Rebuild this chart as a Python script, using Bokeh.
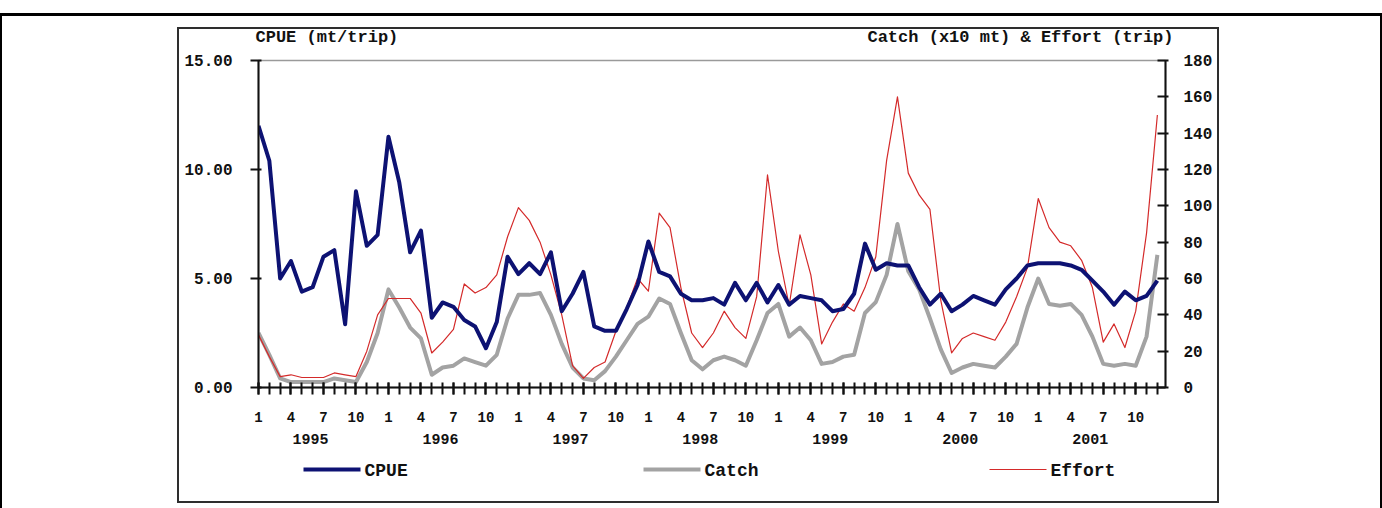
from bokeh.plotting import figure
from bokeh.models import (Range1d, LinearAxis, FixedTicker, ColumnDataSource,
                          NumeralTickFormatter, InlineStyleSheet)
from bokeh.embed import file_html
from bokeh.resources import INLINE

# ---------------- data ----------------
years = ["1995", "1996", "1997", "1998", "1999", "2000", "2001"]
labelled_months = [1, 4, 7, 10]
cpue_ticks = [0, 5, 10, 15]
right_ticks = [0, 20, 40, 60, 80, 100, 120, 140, 160, 180]
titles = ["CPUE (mt/trip)", "Catch (x10 mt) & Effort (trip)"]
series_names = ["CPUE", "Catch", "Effort"]

cpue = [
    12.0, 10.4, 5.0, 5.8, 4.4, 4.6, 6.0, 6.3, 2.9, 9.0, 6.5, 7.0,
    11.5, 9.4, 6.2, 7.2, 3.2, 3.9, 3.7, 3.1, 2.8, 1.8, 3.0, 6.0,
    5.2, 5.7, 5.2, 6.2, 3.5, 4.3, 5.3, 2.8, 2.6, 2.6, 3.6, 4.7,
    6.7, 5.3, 5.1, 4.3, 4.0, 4.0, 4.1, 3.8, 4.8, 4.0, 4.8, 3.9,
    4.7, 3.8, 4.2, 4.1, 4.0, 3.5, 3.6, 4.3, 6.6, 5.4, 5.7, 5.6,
    5.6, 4.6, 3.8, 4.3, 3.5, 3.8, 4.2, 4.0, 3.8, 4.5, 5.0, 5.6,
    5.7, 5.7, 5.7, 5.6, 5.4, 4.9, 4.4, 3.8, 4.4, 4.0, 4.2, 4.9,
]
catch = [
    30, 18, 5, 3, 3, 3, 3, 5, 4, 3, 14, 30,
    54, 44, 33, 27, 7, 11, 12, 16, 14, 12, 18, 38,
    51, 51, 52, 40, 24, 11, 5, 4, 9, 17, 26, 35,
    39, 49, 46, 30, 15, 10, 15, 17, 15, 12, 26, 41,
    46, 28, 33, 26, 13, 14, 17, 18, 41, 47, 62, 90,
    64, 54, 38, 21, 8, 11, 13, 12, 11, 17, 24, 44,
    60, 46, 45, 46, 40, 28, 13, 12, 13, 12, 28, 73,
]
effort = [
    29, 17, 6, 7, 5.5, 5.5, 5.5, 8, 7, 6, 20, 40,
    49, 49, 49, 41, 19, 25, 32, 57, 52, 55, 62, 83,
    99, 92, 80, 62, 40, 12, 5, 11, 14, 31, 44, 60,
    53, 96, 88, 55, 30, 22, 30, 42, 33, 27, 50, 117,
    75, 45, 84, 62, 24, 36, 46, 42, 55, 72, 125, 160,
    118, 106, 98, 48, 19, 27, 30, 28, 26, 36, 50, 66,
    104, 88, 80, 78, 70, 55, 25, 35, 22, 42, 85, 150,
]
months = list(range(len(cpue)))

# ---------------- styles ----------------
COLORS = {"CPUE": "#0d1273", "Catch": "#a3a3a3", "Effort": "#d42a2a"}
WIDTHS = {"CPUE": 4, "Catch": 4, "Effort": 1.2}
FONT = "Liberation Mono"
INK = "#111111"

# ---------------- geometry (canvas px) ----------------
W, H = 1382, 508
AX_L, AX_R = 258, 1165      # left / right axis
AX_B, AX_T = 387, 60        # x axis / top of plot area
X_END = 83.75
ppm = (AX_R - AX_L) / X_END
CPUE_MAX, RIGHT_MAX = 15, 180


def px_to_x(px):
    return (px - AX_L) / ppm


p = figure(width=W, height=H,
           x_range=Range1d(0, X_END), y_range=Range1d(0, CPUE_MAX),
           output_backend="svg", toolbar_location=None, tools="",
           x_axis_location=None, y_axis_location=None,
           min_border_left=AX_L, min_border_right=W - AX_R,
           min_border_top=AX_T, min_border_bottom=H - AX_B)
p.extra_y_ranges = {"right": Range1d(0, RIGHT_MAX)}
for g in p.grid:
    g.visible = False
p.outline_line_color = "#9a9a9a"
p.outline_line_width = 1.5
p.background_fill_color = "white"
p.border_fill_color = "white"


def style_axis(ax, size):
    ax.axis_line_color = INK
    ax.axis_line_width = 2
    ax.major_tick_line_color = INK
    ax.major_tick_line_width = 2
    ax.minor_tick_line_color = None
    ax.major_label_text_font = FONT
    ax.major_label_text_font_style = "bold"
    ax.major_label_text_font_size = size
    ax.major_label_text_color = INK


def bare(ax):
    ax.axis_line_color = None
    ax.major_tick_line_color = None
    ax.minor_tick_line_color = None
    ax.major_tick_out = 0
    ax.major_tick_in = 0


# left axis (CPUE)
ax_l = LinearAxis(ticker=FixedTicker(ticks=cpue_ticks),
                  formatter=NumeralTickFormatter(format="0.00"))
style_axis(ax_l, "16px")
ax_l.major_tick_out = 8
ax_l.major_tick_in = 3
ax_l.major_label_standoff = 18
p.add_layout(ax_l, "left")

# right axis (Catch & Effort)
ax_r = LinearAxis(y_range_name="right", ticker=FixedTicker(ticks=right_ticks))
style_axis(ax_r, "16px")
ax_r.major_tick_out = 3
ax_r.major_tick_in = 8
ax_r.major_label_standoff = 15
p.add_layout(ax_r, "right")

# month axis: every month ticked, months 1/4/7/10 labelled
lab_ticks = [m for m in months if (m % 12 + 1) in labelled_months]
ax_m = LinearAxis(ticker=FixedTicker(ticks=lab_ticks, minor_ticks=months))
ax_m.major_label_overrides = {m: str(m % 12 + 1) for m in lab_ticks}
style_axis(ax_m, "14px")
ax_m.major_tick_out = 7
ax_m.major_tick_in = 5
ax_m.minor_tick_line_color = INK
ax_m.minor_tick_line_width = 2
ax_m.minor_tick_out = 7
ax_m.minor_tick_in = 5
ax_m.major_label_standoff = 17
p.add_layout(ax_m, "below")

# year labels
year_pos = [k * 12 + 4.8 for k in range(len(years))]
ax_y = LinearAxis(ticker=FixedTicker(ticks=year_pos))
ax_y.major_label_overrides = {pos: yr for pos, yr in zip(year_pos, years)}
style_axis(ax_y, "15px")
bare(ax_y)
ax_y.major_label_standoff = 9
p.add_layout(ax_y, "below")

# spacer between the year labels and the key (one white, invisible tick)
ax_sp = LinearAxis(ticker=FixedTicker(ticks=[0]))
bare(ax_sp)
ax_sp.major_label_overrides = {0: ""}
ax_sp.major_label_text_font_size = "1px"
ax_sp.major_tick_line_color = "white"
ax_sp.major_tick_line_width = 1
ax_sp.major_tick_out = 23
ax_sp.major_label_standoff = 0
p.add_layout(ax_sp, "below")

# key: one short coloured rule per series, then the series names
key_starts = {"CPUE": 303, "Catch": 643, "Effort": 989}
KEY_LEN = 57
for name in series_names:
    x0 = key_starts[name]
    ax_k = LinearAxis(ticker=FixedTicker(ticks=[]),
                      bounds=(px_to_x(x0), px_to_x(x0 + KEY_LEN)))
    bare(ax_k)
    ax_k.axis_line_color = COLORS[name]
    ax_k.axis_line_width = WIDTHS[name]
    ax_k.major_label_standoff = 0
    p.add_layout(ax_k, "below")

key_pos = [px_to_x(key_starts[n] + KEY_LEN + 4 + len(n) * 10.8 / 2) for n in series_names]
ax_kl = LinearAxis(ticker=FixedTicker(ticks=key_pos))
ax_kl.major_label_overrides = {pos: n for pos, n in zip(key_pos, series_names)}
style_axis(ax_kl, "18px")
bare(ax_kl)
ax_kl.major_label_standoff = -9
p.add_layout(ax_kl, "below")

# axis titles, set above the plot area
title_pos = [px_to_x(255 + len(titles[0]) * 10.2 / 2),
             px_to_x(1173 - len(titles[1]) * 10.2 / 2)]
ax_ti = LinearAxis(ticker=FixedTicker(ticks=title_pos))
ax_ti.major_label_overrides = {pos: t for pos, t in zip(title_pos, titles)}
style_axis(ax_ti, "17px")
bare(ax_ti)
ax_ti.major_label_standoff = 14
p.add_layout(ax_ti, "above")

# ---------------- series ----------------
src = ColumnDataSource(dict(month=months, cpue=cpue, catch=catch, effort=effort))
p.line("month", "catch", source=src, y_range_name="right",
       line_color=COLORS["Catch"], line_width=WIDTHS["Catch"], line_join="round")
p.line("month", "effort", source=src, y_range_name="right",
       line_color=COLORS["Effort"], line_width=WIDTHS["Effort"], line_join="round")
p.line("month", "cpue", source=src,
       line_color=COLORS["CPUE"], line_width=WIDTHS["CPUE"], line_join="round")

# ---------------- chart frame and page border (CSS overlay) ----------------
css = """
:host { position: relative; }
:host::before {
  content: ""; position: absolute; left: 177px; top: 27px; width: 1042px; height: 476px;
  box-sizing: border-box; border: 2px solid #2e2e2e; pointer-events: none; z-index: 5;
}
:host::after {
  content: ""; position: absolute; left: 0px; top: 13px; width: 1382px; height: 495px;
  box-sizing: border-box; border: 2px solid #000; border-top-width: 3px; border-bottom: none;
  pointer-events: none; z-index: 5;
}
"""
p.stylesheets = [InlineStyleSheet(css=css)]

open("out.html", "w").write(file_html(p, INLINE))
